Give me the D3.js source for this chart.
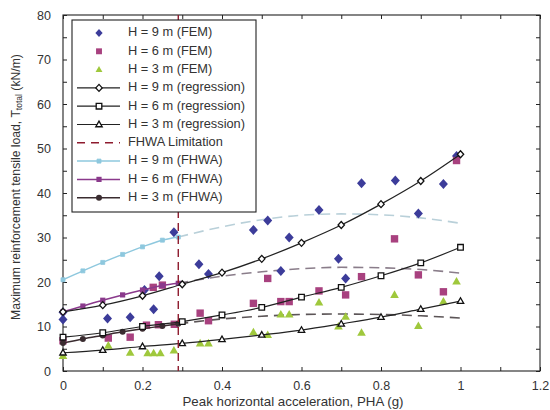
<!DOCTYPE html>
<html>
<head>
<meta charset="utf-8">
<script src="https://cdn.jsdelivr.net/npm/d3@7"></script>
<style>
  body { margin: 0; background: #fff; }
  text { font-family: "Liberation Sans", Arial, sans-serif; fill: #333; }
</style>
</head>
<body>
<script>
// FHWA curves (solid part up to the limitation, dashed beyond)
const pgaSolid = [0, 0.05, 0.1, 0.15, 0.2, 0.25, 0.29];
const fhwa9Solid = [20.5, 22.5, 24.4, 26.2, 27.9, 29.4, 30.1];
const fhwa6Solid = [13.3, 14.6, 15.9, 17.1, 18.2, 19.2, 19.7];
const fhwa3Solid = [6.3, 7.2, 8.0, 8.8, 9.5, 10.1, 10.6];

const pgaDashed = [0.29, 0.4, 0.5, 0.6, 0.7, 0.8, 0.9, 1.0];
const fhwa9Dashed = [30.1, 32.4, 34.0, 35.0, 35.3, 35.1, 34.4, 33.2];
const fhwa6Dashed = [19.7, 21.3, 22.3, 23.0, 23.3, 23.2, 22.8, 22.0];
const fhwa3Dashed = [10.6, 11.7, 12.3, 12.7, 12.8, 12.7, 12.4, 11.9];

// regression curves
const pgaReg = [0, 0.1, 0.2, 0.3, 0.4, 0.5, 0.6, 0.7, 0.8, 0.9, 1.0];
const reg9 = [13.3, 14.8, 16.9, 19.5, 22.1, 25.2, 28.8, 32.8, 37.5, 42.7, 48.7];
const reg6 = [7.6, 8.6, 10.0, 11.1, 12.6, 14.3, 16.6, 18.8, 21.4, 24.3, 27.8];
const reg3 = [4.1, 4.7, 5.5, 6.2, 7.1, 8.1, 9.2, 10.6, 12.1, 13.9, 15.7];

// FEM results [PHA, T]
const fem9 = [[0, 13.2], [0, 11.6], [0.112, 11.8], [0.169, 12.1], [0.205, 18.2], [0.228, 13.9],
  [0.242, 21.3], [0.279, 31.2], [0.342, 24.0], [0.366, 21.8], [0.479, 31.7], [0.515, 33.8],
  [0.548, 22.5], [0.569, 30.0], [0.644, 36.2], [0.693, 25.2], [0.711, 20.8], [0.751, 42.2],
  [0.836, 42.8], [0.894, 35.4], [0.957, 42.0], [0.99, 48.3]];
const fem6 = [[0, 6.8], [0.114, 7.4], [0.169, 7.6], [0.21, 10.3], [0.227, 18.8], [0.24, 10.4],
  [0.25, 19.3], [0.28, 10.5], [0.345, 13.0], [0.366, 11.3], [0.479, 15.2], [0.515, 20.8],
  [0.548, 15.6], [0.569, 15.6], [0.644, 18.0], [0.711, 17.1], [0.751, 21.2], [0.834, 29.7],
  [0.894, 21.6], [0.957, 17.8], [0.99, 47.3]];
const fem3 = [[0, 3.4], [0.114, 5.7], [0.169, 4.1], [0.213, 4.0], [0.228, 4.0], [0.245, 4.0],
  [0.279, 4.6], [0.345, 6.2], [0.366, 6.2], [0.479, 8.7], [0.515, 8.1], [0.548, 12.7],
  [0.569, 12.7], [0.644, 15.4], [0.693, 10.0], [0.711, 12.2], [0.751, 8.6], [0.834, 17.1],
  [0.894, 10.1], [0.957, 15.6], [0.99, 20.1]];

const limitPga = 0.29;

const xTickLabels = [0, 0.2, 0.4, 0.6, 0.8, 1, 1.2];
const yTickLabels = [0, 10, 20, 30, 40, 50, 60, 70, 80];

const legendLabels = ['H = 9 m (FEM)', 'H = 6 m (FEM)', 'H = 3 m (FEM)',
  'H = 9 m (regression)', 'H = 6 m (regression)', 'H = 3 m (regression)',
  'FHWA Limitation', 'H = 9 m (FHWA)', 'H = 6 m (FHWA)', 'H = 3 m (FHWA)'];

const W = 550, H = 410;
const L = 63, R = 540, T = 15, B = 371;

const C_BLUE = '#3c3c9a', C_MAG = '#a8417f', C_GREEN = '#9fc83c';
const C_LB = '#8ec8de', C_PUR = '#8a3a8c', C_DK = '#3a2c30', C_RED = '#8e1b2e';

const svg = d3.select('body').append('svg').attr('width', W).attr('height', H);

const x = d3.scaleLinear().domain([0, 1.2]).range([L, R]);
const y = d3.scaleLinear().domain([0, 80]).range([B, T]);

// markers
const shapes = {
  diamond: (w, h) => `M0,${-h}L${w},0L0,${h}L${-w},0Z`,
  square: (s) => `M${-s},${-s}H${s}V${s}H${-s}Z`,
  triangle: (w, h) => `M0,${-h * 0.6}L${w},${h * 0.4}L${-w},${h * 0.4}Z`
};
const femPath = {
  9: shapes.diamond(4.5, 5),
  6: shapes.square(3.7),
  3: shapes.triangle(4.3, 7.6)
};
const regPath = {
  9: shapes.diamond(3.2, 3.5),
  6: shapes.square(2.8),
  3: shapes.triangle(3.2, 5.6)
};

// frame + ticks
svg.append('rect').attr('x', L).attr('y', T).attr('width', R - L).attr('height', B - T)
  .attr('fill', 'none').attr('stroke', '#222').attr('stroke-width', 1.1);

const xAxisB = d3.axisBottom(x).tickValues(d3.range(0, 1.21, 0.1)).tickSizeInner(-4).tickSizeOuter(0)
  .tickFormat(d => xTickLabels.some(v => Math.abs(v - d) < 1e-6) ? d3.format('~g')(+d.toFixed(1)) : '')
  .tickPadding(10);
svg.append('g').attr('transform', `translate(0,${B})`).call(xAxisB);
const xAxisT = d3.axisTop(x).tickValues(d3.range(0, 1.21, 0.1)).tickSizeInner(-4).tickSizeOuter(0).tickFormat('');
svg.append('g').attr('transform', `translate(0,${T})`).call(xAxisT);

const yAxisL = d3.axisLeft(y).tickValues(d3.range(0, 81, 5)).tickSizeInner(-4).tickSizeOuter(0)
  .tickFormat(d => yTickLabels.includes(d) ? d : '').tickPadding(12);
svg.append('g').attr('transform', `translate(${L},0)`).call(yAxisL);
const yAxisR = d3.axisRight(y).tickValues(d3.range(0, 81, 5)).tickSizeInner(-4).tickSizeOuter(0).tickFormat('');
svg.append('g').attr('transform', `translate(${R},0)`).call(yAxisR);

svg.selectAll('.domain').remove();
svg.selectAll('.tick line').attr('stroke', '#222');
svg.selectAll('.tick text').attr('font-size', 12.5).attr('fill', '#444')
  .style('font-family', '"Liberation Sans", Arial, sans-serif');

// axis titles
svg.append('text').attr('x', 293).attr('y', 402).attr('text-anchor', 'middle')
  .attr('font-size', 13.3).attr('dominant-baseline', 'middle')
  .text('Peak horizontal acceleration, PHA (g)');

const yt = svg.append('text').attr('transform', `translate(17,187) rotate(-90)`)
  .attr('text-anchor', 'middle').attr('dominant-baseline', 'middle').attr('font-size', 12.2);
yt.append('tspan').text('Maximum reinforcement tensile load, T');
yt.append('tspan').attr('font-size', 8.5).attr('dy', 3).text('total');
yt.append('tspan').attr('dy', -3).text(' (kN/m)');

const plot = svg.append('g');
const lineGen = d3.line().x(d => x(d[0])).y(d => y(d[1])).curve(d3.curveMonotoneX);
const zip = (xs, ys) => xs.map((v, i) => [v, ys[i]]);

// FHWA dashed continuation
[[fhwa9Dashed, '#b9d0d9'], [fhwa6Dashed, '#8a7d8a'], [fhwa3Dashed, '#5c5557']].forEach(([vals, col]) => {
  plot.append('path').datum(zip(pgaDashed, vals)).attr('d', lineGen)
    .attr('fill', 'none').attr('stroke', col).attr('stroke-width', 1.6).attr('stroke-dasharray', '10,6');
});

// FEM scatter
[[fem9, C_BLUE, 9], [fem6, C_MAG, 6], [fem3, C_GREEN, 3]].forEach(([pts, col, h]) => {
  plot.append('g').selectAll('path').data(pts).join('path')
    .attr('d', femPath[h]).attr('fill', col)
    .attr('transform', d => `translate(${x(d[0])},${y(d[1])})`);
});

// FHWA solid parts with markers
const fhwaSets = [
  [fhwa9Solid, C_LB, 'lb'], [fhwa6Solid, C_PUR, 'pur'], [fhwa3Solid, C_DK, 'dk']
];
function fhwaMarker(sel, kind, col) {
  if (kind === 'lb') {
    sel.append('path').attr('d', shapes.square(2)).attr('fill', col).attr('stroke', col).attr('stroke-width', 0.8);
  } else if (kind === 'pur') {
    sel.append('path').attr('d', shapes.square(2.6)).attr('fill', col);
  } else {
    sel.append('circle').attr('r', 3).attr('fill', col);
  }
}
fhwaSets.forEach(([vals, col, kind]) => {
  const pts = zip(pgaSolid, vals);
  plot.append('path').datum(pts).attr('d', lineGen)
    .attr('fill', 'none').attr('stroke', col).attr('stroke-width', 1.5);
  plot.append('g').selectAll('g').data(pts).join('g')
    .attr('transform', d => `translate(${x(d[0])},${y(d[1])})`)
    .each(function () { fhwaMarker(d3.select(this), kind, col); });
});

// regression
[[reg9, 9], [reg6, 6], [reg3, 3]].forEach(([vals, h]) => {
  const pts = zip(pgaReg, vals);
  plot.append('path').datum(pts).attr('d', lineGen)
    .attr('fill', 'none').attr('stroke', '#222').attr('stroke-width', 1.2);
  plot.append('g').selectAll('path').data(pts).join('path')
    .attr('d', regPath[h]).attr('fill', '#fff').attr('stroke', '#111').attr('stroke-width', 1.3)
    .attr('transform', d => `translate(${x(d[0])},${y(d[1])})`);
});

// FHWA limitation
plot.append('line').attr('x1', x(limitPga)).attr('x2', x(limitPga)).attr('y1', T).attr('y2', B)
  .attr('stroke', C_RED).attr('stroke-width', 1.4).attr('stroke-dasharray', '8,5');

// legend
const lg = svg.append('g');
lg.append('rect').attr('x', 72).attr('y', 20).attr('width', 184).attr('height', 192)
  .attr('fill', '#fff').attr('stroke', '#222').attr('stroke-width', 1.1);
const rowY = i => 33 + i * 18.3;
const mx = 99, lx0 = 77, lx1 = 120, tx = 128;

legendLabels.forEach((lab, i) => {
  const g = lg.append('g').attr('transform', `translate(0,${rowY(i)})`);
  if (i < 3) {
    const h = [9, 6, 3][i];
    g.append('path').attr('d', femPath[h]).attr('fill', [C_BLUE, C_MAG, C_GREEN][i])
      .attr('transform', `translate(${mx},0) scale(0.8)`);
  } else if (i < 6) {
    const h = [9, 6, 3][i - 3];
    g.append('line').attr('x1', lx0).attr('x2', lx1).attr('stroke', '#222').attr('stroke-width', 1.2);
    g.append('path').attr('d', regPath[h]).attr('fill', '#fff').attr('stroke', '#111').attr('stroke-width', 1.3)
      .attr('transform', `translate(${mx},0)`);
  } else if (i === 6) {
    g.append('line').attr('x1', lx0).attr('x2', lx1).attr('stroke', C_RED).attr('stroke-width', 1.4)
      .attr('stroke-dasharray', '8,6');
  } else {
    const [, col, kind] = fhwaSets[i - 7];
    g.append('line').attr('x1', lx0).attr('x2', lx1).attr('stroke', col).attr('stroke-width', 1.5);
    const m = g.append('g').attr('transform', `translate(${mx},0)`);
    fhwaMarker(m, kind, col);
  }
  g.append('text').attr('x', tx).attr('dominant-baseline', 'middle').attr('font-size', 12.8).text(lab);
});
</script>
</body>
</html>
